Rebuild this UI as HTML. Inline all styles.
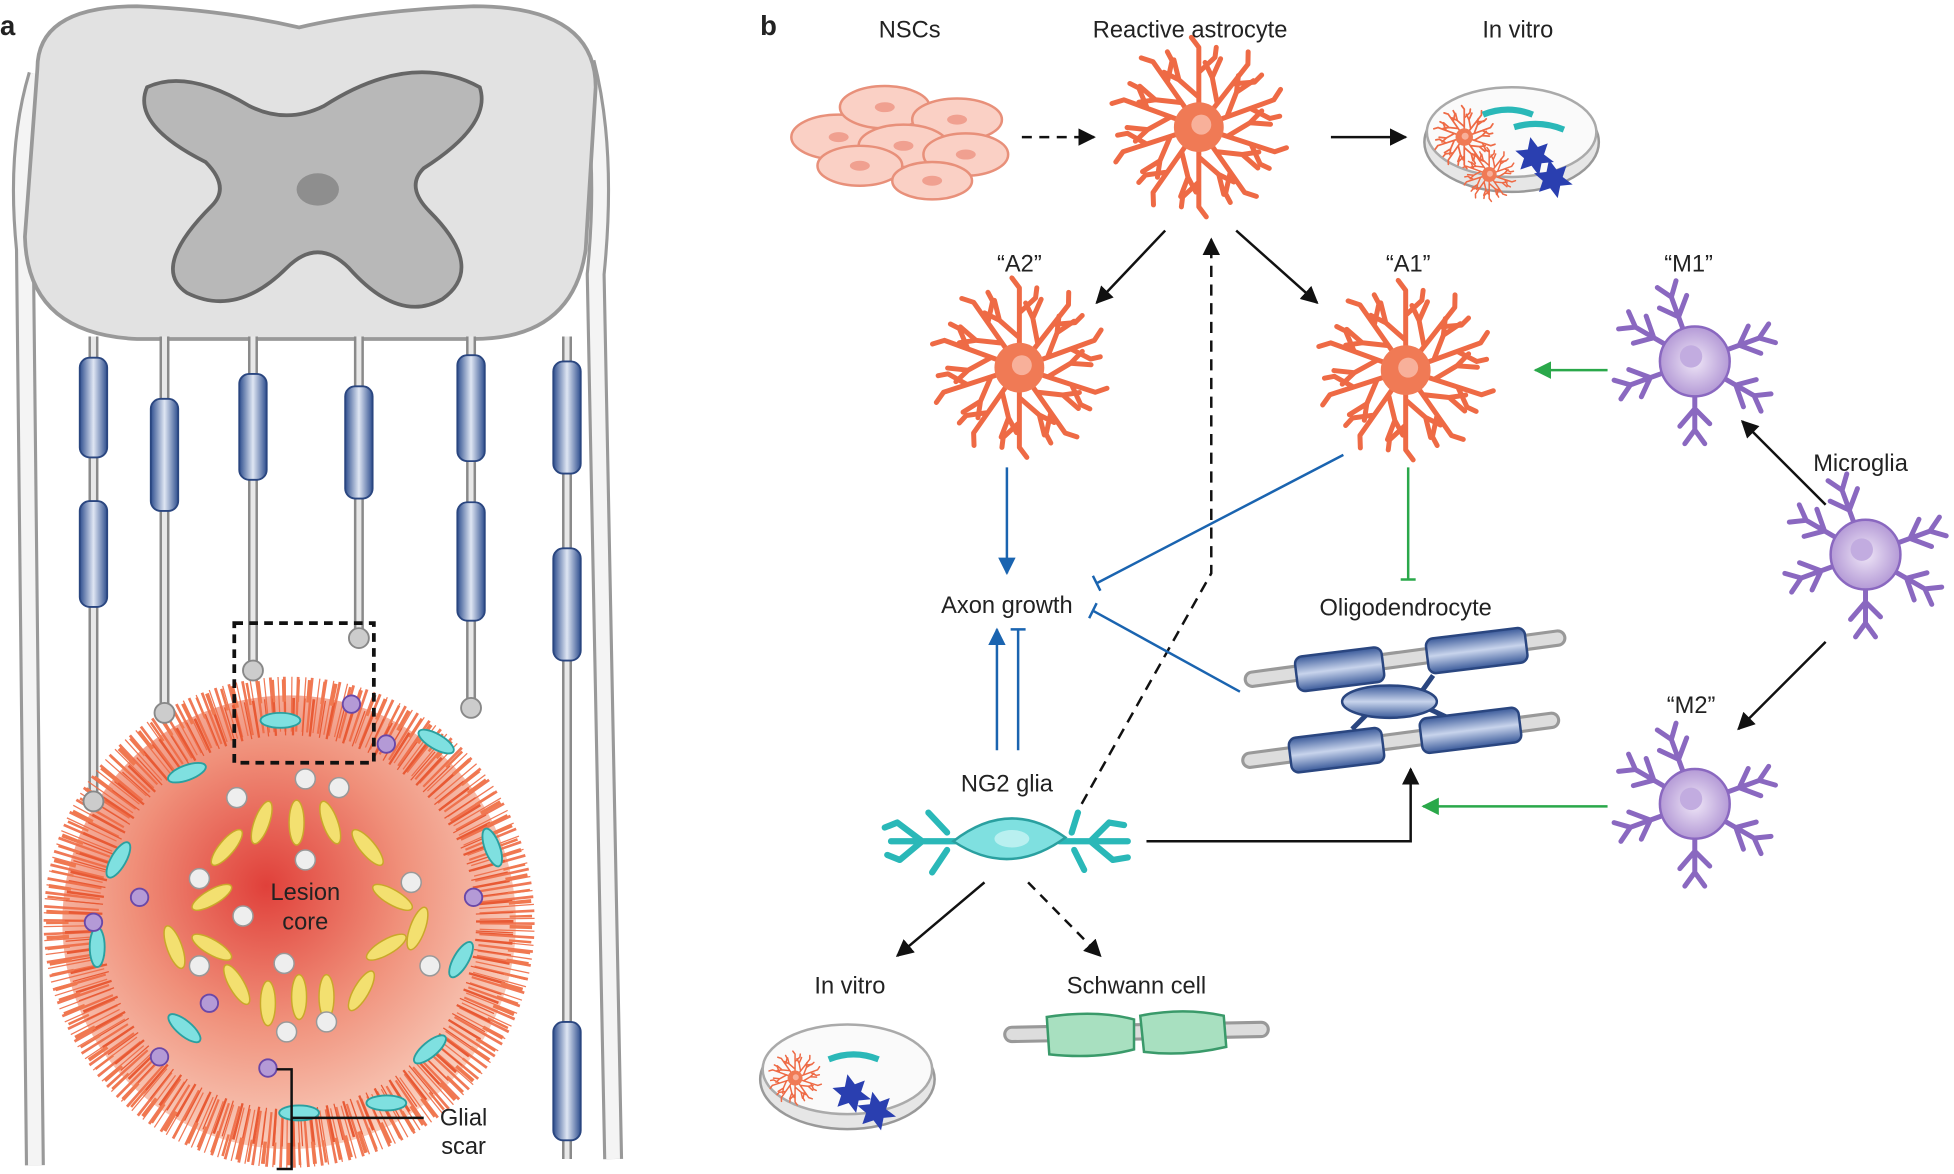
<!DOCTYPE html>
<html><head><meta charset="utf-8"><style>
html,body{margin:0;padding:0;background:#fff;}
svg{display:block}
text{font-family:"Liberation Sans",sans-serif;fill:#222;}
</style></head><body>
<svg width="1954" height="1174" viewBox="0 0 1568 942" preserveAspectRatio="none" xmlns="http://www.w3.org/2000/svg">
<defs>
<radialGradient id="les" cx="0.45" cy="0.42" r="0.6"><stop offset="0" stop-color="#e0403a"/><stop offset="0.5" stop-color="#f0907a"/><stop offset="1" stop-color="#f9d2c2"/></radialGradient>
<linearGradient id="my" x1="0" x2="1" y1="0" y2="0"><stop offset="0" stop-color="#2f4f8f"/><stop offset="0.5" stop-color="#dfe6f3"/><stop offset="1" stop-color="#2f4f8f"/></linearGradient>
<linearGradient id="myh" x1="0" x2="0" y1="0" y2="1"><stop offset="0" stop-color="#3a5a9a"/><stop offset="0.5" stop-color="#c8d4ec"/><stop offset="1" stop-color="#3a5a9a"/></linearGradient>
<radialGradient id="mg"><stop offset="0" stop-color="#efe6f7"/><stop offset="1" stop-color="#b49ad6"/></radialGradient>
<g id="br"><path d="M0 0 L0 -64 M0 -24 L-16 -38 L-20 -54 M0 -44 L13 -56 L14 -64 M-16 -38 L-28 -44 M0 -64 L-6 -72"/></g>
<g id="astro"><g stroke="#ee6a45" stroke-width="4" stroke-linecap="round" stroke-linejoin="round" fill="none">
<use href="#br" transform="rotate(0)"/><use href="#br" transform="rotate(38)"/><use href="#br" transform="rotate(70)"/><use href="#br" transform="rotate(108)"/><use href="#br" transform="rotate(145)"/><use href="#br" transform="rotate(180)"/><use href="#br" transform="rotate(215)"/><use href="#br" transform="rotate(252)"/><use href="#br" transform="rotate(290)"/><use href="#br" transform="rotate(325)"/></g>
<circle r="20" fill="#f07a55"/><circle r="8" cx="2" cy="-2" fill="#f8b09a"/></g>
<g id="mb"><path d="M0 0 L0 -55 M0 -38 L-12 -50 M0 -38 L12 -52 M0 -55 L-8 -66 M0 -55 L8 -66"/></g>
<g id="micro"><g stroke="#8a68c0" stroke-width="4" fill="none" stroke-linecap="round">
<use href="#mb" transform="rotate(-20)"/><use href="#mb" transform="rotate(70)"/><use href="#mb" transform="rotate(120)"/><use href="#mb" transform="rotate(180)"/><use href="#mb" transform="rotate(250)"/><use href="#mb" transform="rotate(300)"/></g>
<circle r="28" fill="url(#mg)" stroke="#8a68c0" stroke-width="2"/><circle r="9" cx="-3" cy="-4" fill="#c2ace0"/></g>
<marker id="ar" viewBox="0 0 10 10" refX="9" refY="5" markerWidth="7" markerHeight="7" orient="auto"><path d="M0 0 L10 5 L0 10 z" fill="#111"/></marker>
<marker id="arb" viewBox="0 0 10 10" refX="9" refY="5" markerWidth="7" markerHeight="7" orient="auto"><path d="M0 0 L10 5 L0 10 z" fill="#1a64b0"/></marker>
<marker id="arg" viewBox="0 0 10 10" refX="9" refY="5" markerWidth="7" markerHeight="7" orient="auto"><path d="M0 0 L10 5 L0 10 z" fill="#2aa84a"/></marker>
<g id="dish"><ellipse cx="0" cy="8" rx="70" ry="40" fill="#e6e6e6" stroke="#999" stroke-width="2"/><ellipse cx="0" cy="0" rx="68" ry="36" fill="#fafafa" stroke="#aaa" stroke-width="2"/></g>
</defs>

<!-- PANEL A -->
<text x="0" y="28" font-size="22" font-weight="bold">a</text>
<path d="M30 60 Q12 120 20 200 L28 935" stroke="#999" stroke-width="16" fill="none"/><path d="M30 60 Q12 120 20 200 L28 935" stroke="#f4f4f4" stroke-width="11" fill="none"/>
<path d="M470 50 Q488 120 478 220 L492 930" stroke="#999" stroke-width="16" fill="none"/><path d="M470 50 Q488 120 478 220 L492 930" stroke="#f4f4f4" stroke-width="11" fill="none"/>
<path d="M30 55 Q30 5 110 5 Q180 8 240 22 Q300 8 380 5 Q478 5 478 70 L470 200 Q460 272 380 272 L110 272 Q22 268 20 190 Z" fill="#e2e2e2" stroke="#999" stroke-width="3"/>
<path d="M118 70 Q150 55 200 85 Q230 100 260 85 Q330 40 385 70 Q395 100 340 135 Q325 150 345 170 Q390 215 355 240 Q320 260 280 215 Q255 190 230 215 Q190 255 150 235 Q120 215 170 165 Q185 150 165 130 Q105 100 118 70 Z" fill="#b8b8b8" stroke="#666" stroke-width="3"/>
<ellipse cx="255" cy="152" rx="17" ry="13" fill="#8e8e8e"/>
<g stroke="#8a8a8a" stroke-width="8" fill="none">
<path d="M75 270 L75 640"/><path d="M132 270 L132 570"/><path d="M203 270 L203 535"/><path d="M288 270 L288 510"/><path d="M378 270 L378 565"/><path d="M455 270 L455 930"/></g>
<g stroke="#e8e8e8" stroke-width="4" fill="none">
<path d="M75 270 L75 640"/><path d="M132 270 L132 570"/><path d="M203 270 L203 535"/><path d="M288 270 L288 510"/><path d="M378 270 L378 565"/><path d="M455 270 L455 930"/></g>
<g fill="url(#my)" stroke="#2a4680" stroke-width="1.5">
<rect x="64" y="287" width="22" height="80" rx="8"/><rect x="64" y="402" width="22" height="85" rx="8"/>
<rect x="121" y="320" width="22" height="90" rx="8"/>
<rect x="192" y="300" width="22" height="85" rx="8"/>
<rect x="277" y="310" width="22" height="90" rx="8"/>
<rect x="367" y="285" width="22" height="85" rx="8"/><rect x="367" y="403" width="22" height="95" rx="8"/>
<rect x="444" y="290" width="22" height="90" rx="8"/><rect x="444" y="440" width="22" height="90" rx="8"/><rect x="444" y="820" width="22" height="95" rx="8"/></g>
<circle cx="232" cy="740" r="182" fill="url(#les)"/>
<circle cx="232" cy="740" r="175" fill="none" stroke="#ee6a45" stroke-width="44" stroke-dasharray="2 4 1 3" opacity="0.9"/>
<circle cx="232" cy="740" r="165" fill="none" stroke="#e85a35" stroke-width="30" stroke-dasharray="1 5 2 7" transform="rotate(3 232 740)"/>
<circle cx="232" cy="740" r="186" fill="none" stroke="#f07850" stroke-width="18" stroke-dasharray="2 6 3 9" transform="rotate(7 232 740)"/>
<g fill="#7fe0e0" stroke="#2aa0a0" stroke-width="1.5">
<ellipse cx="150" cy="620" rx="16" ry="6" transform="rotate(-20 150 620)"/><ellipse cx="225" cy="578" rx="16" ry="6"/><ellipse cx="350" cy="595" rx="16" ry="6" transform="rotate(30 350 595)"/>
<ellipse cx="95" cy="690" rx="16" ry="6" transform="rotate(-60 95 690)"/><ellipse cx="395" cy="680" rx="16" ry="6" transform="rotate(70 395 680)"/>
<ellipse cx="78" cy="760" rx="16" ry="6" transform="rotate(90 78 760)"/><ellipse cx="370" cy="770" rx="16" ry="6" transform="rotate(-60 370 770)"/>
<ellipse cx="148" cy="825" rx="16" ry="6" transform="rotate(40 148 825)"/><ellipse cx="345" cy="842" rx="16" ry="6" transform="rotate(-40 345 842)"/>
<ellipse cx="240" cy="893" rx="16" ry="6"/><ellipse cx="310" cy="885" rx="16" ry="6"/></g>
<g fill="#b49ad6" stroke="#6a48a8" stroke-width="1.5">
<circle cx="282" cy="565" r="7"/><circle cx="310" cy="597" r="7"/><circle cx="112" cy="720" r="7"/><circle cx="380" cy="720" r="7"/><circle cx="75" cy="740" r="7"/><circle cx="168" cy="805" r="7"/><circle cx="128" cy="848" r="7"/><circle cx="215" cy="857" r="7"/></g>
<g fill="#f3e070" stroke="#c9a82a" stroke-width="1.2">
<ellipse cx="210" cy="660" rx="6" ry="18" transform="rotate(20 210 660)"/><ellipse cx="238" cy="660" rx="6" ry="18"/><ellipse cx="265" cy="660" rx="6" ry="18" transform="rotate(-20 265 660)"/>
<ellipse cx="182" cy="680" rx="6" ry="18" transform="rotate(40 182 680)"/><ellipse cx="295" cy="680" rx="6" ry="18" transform="rotate(-40 295 680)"/>
<ellipse cx="170" cy="720" rx="6" ry="18" transform="rotate(60 170 720)"/><ellipse cx="315" cy="720" rx="6" ry="18" transform="rotate(-60 315 720)"/>
<ellipse cx="170" cy="760" rx="6" ry="18" transform="rotate(-60 170 760)"/><ellipse cx="310" cy="760" rx="6" ry="18" transform="rotate(60 310 760)"/>
<ellipse cx="190" cy="790" rx="6" ry="18" transform="rotate(-30 190 790)"/><ellipse cx="290" cy="795" rx="6" ry="18" transform="rotate(30 290 795)"/>
<ellipse cx="215" cy="805" rx="6" ry="18"/><ellipse cx="240" cy="800" rx="6" ry="18"/><ellipse cx="262" cy="800" rx="6" ry="18"/>
<ellipse cx="140" cy="760" rx="6" ry="18" transform="rotate(-20 140 760)"/><ellipse cx="335" cy="745" rx="6" ry="18" transform="rotate(20 335 745)"/></g>
<g fill="#eee" stroke="#999" stroke-width="1.2">
<circle cx="245" cy="625" r="8"/><circle cx="272" cy="632" r="8"/><circle cx="190" cy="640" r="8"/><circle cx="160" cy="705" r="8"/><circle cx="245" cy="690" r="8"/><circle cx="330" cy="708" r="8"/><circle cx="195" cy="735" r="8"/><circle cx="345" cy="775" r="8"/><circle cx="160" cy="775" r="8"/><circle cx="228" cy="773" r="8"/><circle cx="262" cy="820" r="8"/><circle cx="230" cy="828" r="8"/></g>
<g fill="#ccc" stroke="#888" stroke-width="1.5">
<circle cx="75" cy="643" r="8"/><circle cx="132" cy="572" r="8"/><circle cx="203" cy="538" r="8"/><circle cx="288" cy="512" r="8"/><circle cx="378" cy="568" r="8"/></g>
<rect x="188" y="500" width="112" height="112" fill="none" stroke="#111" stroke-width="3" stroke-dasharray="7 5"/>
<text x="245" y="722" font-size="19" text-anchor="middle">Lesion</text>
<text x="245" y="746" font-size="19" text-anchor="middle">core</text>
<path d="M222 858 L234 858 L234 938 L222 938 M234 897 L340 897" stroke="#111" stroke-width="2" fill="none"/>
<text x="372" y="903" font-size="19" text-anchor="middle">Glial</text>
<text x="372" y="926" font-size="19" text-anchor="middle">scar</text>

<!-- PANEL B -->
<text x="610" y="28" font-size="22" font-weight="bold">b</text>
<g font-size="19" text-anchor="middle">
<text x="730" y="30">NSCs</text><text x="955" y="30">Reactive astrocyte</text><text x="1218" y="30">In vitro</text>
<text x="818" y="218">“A2”</text><text x="1130" y="218">“A1”</text><text x="1355" y="218">“M1”</text>
<text x="1493" y="378">Microglia</text><text x="1357" y="572">“M2”</text>
<text x="808" y="492">Axon growth</text><text x="1128" y="494">Oligodendrocyte</text>
<text x="808" y="635">NG2 glia</text><text x="682" y="797">In vitro</text><text x="912" y="797">Schwann cell</text></g>
<g fill="#fad0c5" stroke="#e8907a" stroke-width="2">
<ellipse cx="673" cy="110" rx="38" ry="18"/><ellipse cx="710" cy="86" rx="36" ry="17"/><ellipse cx="768" cy="96" rx="36" ry="17"/>
<ellipse cx="725" cy="117" rx="36" ry="17"/><ellipse cx="775" cy="124" rx="34" ry="17"/><ellipse cx="690" cy="133" rx="34" ry="16"/><ellipse cx="748" cy="145" rx="32" ry="15"/></g>
<g fill="#f0a090"><ellipse cx="673" cy="110" rx="8" ry="4"/><ellipse cx="710" cy="86" rx="8" ry="4"/><ellipse cx="768" cy="96" rx="8" ry="4"/><ellipse cx="725" cy="117" rx="8" ry="4"/><ellipse cx="775" cy="124" rx="8" ry="4"/><ellipse cx="690" cy="133" rx="8" ry="4"/><ellipse cx="748" cy="145" rx="8" ry="4"/></g>
<use href="#astro" x="962" y="102"/>
<use href="#astro" x="818" y="295"/>
<use href="#astro" x="1128" y="297"/>
<use href="#micro" x="1360" y="290"/>
<use href="#micro" x="1497" y="445"/>
<use href="#micro" x="1360" y="645"/>
<use href="#dish" x="1213" y="106"/>
<g transform="translate(1175 110) scale(0.35)"><use href="#astro"/></g>
<g transform="translate(1195 140) scale(0.3)"><use href="#astro"/></g>
<path d="M1190 92 Q1210 84 1230 92 M1215 102 Q1235 96 1255 104" stroke="#2ab8b8" stroke-width="5" fill="none"/>
<path d="M1228 110 l6 8 l8 -3 l-3 9 l8 6 l-10 1 l-2 10 l-6 -8 l-9 3 l3 -9 l-7 -6 l10 -1 z" fill="#2a3fb0"/>
<path d="M1243 128 l6 8 l8 -3 l-3 9 l8 6 l-10 1 l-2 10 l-6 -8 l-9 3 l3 -9 l-7 -6 l10 -1 z" fill="#2a3fb0"/>
<use href="#dish" x="680" y="858"/>
<g transform="translate(638 865) scale(0.3)"><use href="#astro"/></g>
<path d="M665 850 Q685 842 705 850" stroke="#2ab8b8" stroke-width="5" fill="none"/>
<path d="M680 862 l6 8 l8 -3 l-3 9 l8 6 l-10 1 l-2 10 l-6 -8 l-9 3 l3 -9 l-7 -6 l10 -1 z" fill="#2a3fb0"/>
<path d="M700 876 l6 8 l8 -3 l-3 9 l8 6 l-10 1 l-2 10 l-6 -8 l-9 3 l3 -9 l-7 -6 l10 -1 z" fill="#2a3fb0"/>
<g stroke="#999" stroke-width="14" stroke-linecap="round"><path d="M1005 545 L1250 512"/><path d="M1003 610 L1245 578"/></g>
<g stroke="#ddd" stroke-width="9" stroke-linecap="round"><path d="M1005 545 L1250 512"/><path d="M1003 610 L1245 578"/></g>
<g stroke="#2a4680" stroke-width="4"><path d="M1095 555 L1105 565 M1150 542 L1140 556 M1085 585 L1100 570 M1160 575 L1145 568"/></g>
<g fill="url(#myh)" stroke="#2a4680" stroke-width="2">
<rect x="1040" y="523" width="70" height="28" rx="6" transform="rotate(-7 1075 537)"/><rect x="1145" y="508" width="80" height="28" rx="6" transform="rotate(-7 1185 522)"/>
<rect x="1035" y="588" width="75" height="28" rx="6" transform="rotate(-7 1072 602)"/><rect x="1140" y="572" width="80" height="28" rx="6" transform="rotate(-7 1180 586)"/></g>
<ellipse cx="1115" cy="563" rx="38" ry="13" fill="url(#myh)" stroke="#2a4680" stroke-width="2"/>
<g stroke="#2ab8b8" stroke-width="5" fill="none" stroke-linecap="round">
<path d="M770 675 L715 675 M740 675 L720 660 M740 675 L722 690 M760 668 L745 652 M760 682 L748 700 M720 660 L710 664 M722 690 L712 686"/>
<path d="M850 675 L905 675 M875 675 L890 660 M875 675 L893 690 M860 668 L865 652 M862 682 L870 698 M890 660 L902 662 M893 690 L905 688"/></g>
<path d="M765 675 Q810 640 855 672 Q810 705 765 675 Z" fill="#7fe0e0" stroke="#2aa0a0" stroke-width="2"/>
<ellipse cx="812" cy="673" rx="14" ry="7" fill="#b9f0f0"/>
<path d="M812 830 L1012 826" stroke="#999" stroke-width="14" stroke-linecap="round"/><path d="M812 830 L1012 826" stroke="#ddd" stroke-width="9" stroke-linecap="round"/>
<path d="M840 816 Q880 810 910 818 L910 842 Q880 850 842 846 Z" fill="#a8e0c0" stroke="#3a9a6a" stroke-width="2"/>
<path d="M915 815 Q950 808 982 815 L984 840 Q950 848 918 844 Z" fill="#a8e0c0" stroke="#3a9a6a" stroke-width="2"/>
<g stroke="#111" stroke-width="2" fill="none">
<path d="M820 110 L878 110" stroke-dasharray="8 6" marker-end="url(#ar)"/>
<path d="M1068 110 L1128 110" marker-end="url(#ar)"/>
<path d="M935 185 L880 243" marker-end="url(#ar)"/>
<path d="M992 185 L1057 243" marker-end="url(#ar)"/>
<path d="M1465 405 L1398 338" marker-end="url(#ar)"/>
<path d="M1465 515 L1395 585" marker-end="url(#ar)"/>
<path d="M868 645 L972 460 L972 192" stroke-dasharray="9 6" marker-end="url(#ar)"/>
<path d="M920 675 L1132 675 L1132 617" marker-end="url(#ar)"/>
<path d="M790 708 L720 767" marker-end="url(#ar)"/>
<path d="M825 708 L883 767" stroke-dasharray="8 6" marker-end="url(#ar)"/>
</g>
<g stroke="#1a64b0" stroke-width="2" fill="none">
<path d="M808 375 L808 460" marker-end="url(#arb)"/>
<path d="M800 602 L800 505" marker-end="url(#arb)"/>
<path d="M817 602 L817 505 M811 505 L823 505"/>
<path d="M1078 365 L880 468 M877 462 L883 474"/>
<path d="M995 555 L877 490 M874 496 L880 484"/>
</g>
<g stroke="#2aa84a" stroke-width="2" fill="none">
<path d="M1290 297 L1232 297" marker-end="url(#arg)"/>
<path d="M1290 647 L1142 647" marker-end="url(#arg)"/>
<path d="M1130 375 L1130 465 M1124 465 L1136 465"/>
</g>
</svg>
</body></html>
